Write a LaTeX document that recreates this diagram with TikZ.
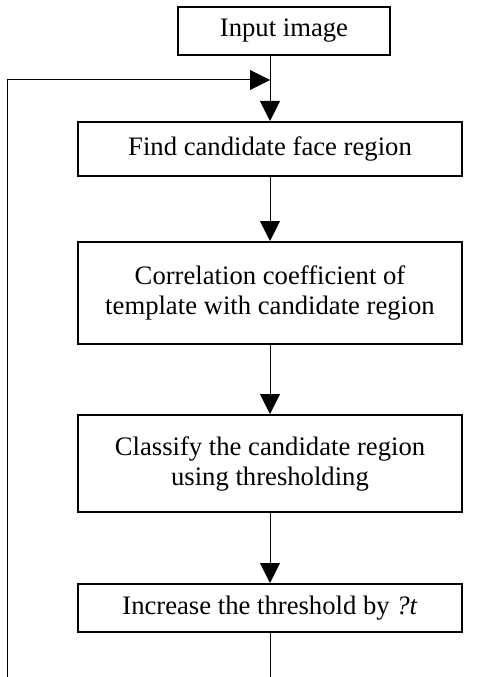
\documentclass[tikz,border=0pt]{standalone}
\usepackage{fontspec}
\setmainfont{Liberation Serif}
\usetikzlibrary{arrows.meta}

\tikzset{every picture/.style={line width=0.75pt}}
\tikzset{
	stepbox/.style={draw, line width=1.5pt, align=center, inner sep=0pt,
		font=\fontsize{20}{22.5}\selectfont},
	arr/.style={-{Triangle[length=15pt,width=15pt]}}
}

\begin{document}
\begin{tikzpicture}[x=0.75pt,y=0.75pt,yscale=-1,xscale=1]
	\useasboundingbox (0,0) rectangle (484,677);

	% Boxes
	\node[stepbox, minimum width=159pt, minimum height=36pt] (input) at (284,31) {Input image};
	\node[stepbox, minimum width=288pt, minimum height=40.5pt] (find) at (270,149) {Find candidate face region};
	\node[stepbox, minimum width=288pt, minimum height=76.5pt] (corr) at (270,293) {Correlation coefficient of\\template with candidate region};
	\node[stepbox, minimum width=288pt, minimum height=72.75pt] (class) at (270,463.5) {Classify the candidate region\\using thresholding};
	\node[stepbox, minimum width=288pt, minimum height=36pt] (incr) at (270,608) {Increase the threshold by \textit{?t}};

	% loop ends
	\coordinate (loopbot) at (7,677);
	\coordinate (looptop) at (7,80);
	\coordinate (exit) at (270,677);

	% Connectors
	\draw[arr] (find.north |- input.south) -- (find.north);
	\draw[arr] (find.south) -- (corr.north);
	\draw[arr] (corr.south) -- (class.north);
	\draw[arr] (class.south) -- (incr.north);
	\draw (incr.south) -- (exit);
	\draw[arr] (loopbot) -- (looptop) -- (find.north |- looptop);

\end{tikzpicture}
\end{document}
